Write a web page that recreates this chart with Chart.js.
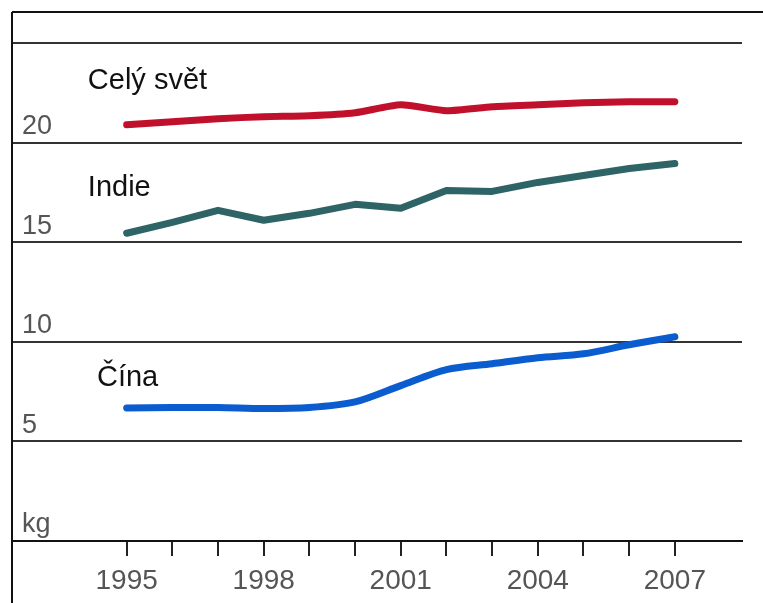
<!DOCTYPE html>
<html>
<head>
<meta charset="utf-8">
<script src="https://cdn.jsdelivr.net/npm/chart.js@4.4.1/dist/chart.umd.min.js"></script>
<style>
  html, body { margin: 0; padding: 0; background: #fff; }
  #wrap { width: 763px; height: 603px; position: relative; }
</style>
</head>
<body>
<div id="wrap"><canvas id="chart"></canvas></div>
<script>
// DATA
const years = [1995, 1996, 1997, 1998, 1999, 2000, 2001, 2002, 2003, 2004, 2005, 2006, 2007];
const celySvet = [20.9, 21.05, 21.2, 21.3, 21.35, 21.5, 21.9, 21.6, 21.8, 21.9, 22.0, 22.05, 22.05];
const indie = [15.45, 16.0, 16.6, 16.1, 16.45, 16.9, 16.7, 17.6, 17.55, 18.0, 18.35, 18.7, 18.95];
const cina = [6.68, 6.7, 6.7, 6.65, 6.7, 6.98, 7.8, 8.6, 8.9, 9.2, 9.4, 9.85, 10.25];
const yTicks = [0, 5, 10, 15, 20, 25];
const yTickLabels = ['kg', '5', '10', '15', '20', ''];
const xLabelYears = [1995, 1998, 2001, 2004, 2007];
const seriesNames = ['Celý svět', 'Indie', 'Čína'];

// where the series names sit, in data units (year, kg)
const namePos = [[1994.15, 23.1], [1994.15, 17.7], [1994.35, 8.2]];

const FONT = '"Liberation Sans", Arial, sans-serif';

// frame lines + series names
const extras = {
    id: 'extras',
    afterDraw(chart) {
        const ctx = chart.ctx;
        const a = chart.chartArea;
        const x = chart.scales.x, y = chart.scales.y;
        ctx.save();
        ctx.strokeStyle = '#111';
        ctx.lineWidth = 2;
        ctx.beginPath();
        ctx.moveTo(a.left, 12);
        ctx.lineTo(chart.width, 12);
        ctx.moveTo(a.left, 12);
        ctx.lineTo(a.left, chart.height);
        ctx.stroke();

        ctx.fillStyle = '#111';
        ctx.font = '29px ' + FONT;
        ctx.textAlign = 'left';
        ctx.textBaseline = 'middle';
        seriesNames.forEach((n, i) => {
            ctx.fillText(n, x.getPixelForValue(namePos[i][0]), y.getPixelForValue(namePos[i][1]));
        });
        ctx.restore();
    }
};

new Chart(document.getElementById('chart'), {
    type: 'line',
    data: {
        datasets: [
            { data: years.map((v, i) => ({ x: v, y: celySvet[i] })), borderColor: '#c1102c', borderWidth: 7, tension: 0.2 },
            { data: years.map((v, i) => ({ x: v, y: indie[i] })), borderColor: '#2e6466', borderWidth: 7, tension: 0 },
            { data: years.map((v, i) => ({ x: v, y: cina[i] })), borderColor: '#0a5ccf', borderWidth: 7, tension: 0.3 }
        ]
    },
    options: {
        responsive: true,
        maintainAspectRatio: false,
        animation: false,
        layout: { padding: { top: 43, left: 12, right: 21, bottom: 0 } },
        elements: { point: { radius: 0 }, line: { borderCapStyle: 'round', borderJoinStyle: 'round' } },
        plugins: { legend: { display: false }, tooltip: { enabled: false } },
        scales: {
            x: {
                type: 'linear',
                min: 1992.49,
                max: 2008.47,
                afterBuildTicks: s => { s.ticks = years.map(v => ({ value: v })); },
                afterFit: s => { s.height = 62; },
                grid: { drawOnChartArea: false, drawTicks: true, tickLength: 15, color: '#222', lineWidth: 2 },
                border: { display: true, color: '#111', width: 2 },
                ticks: {
                    autoSkip: false,
                    maxRotation: 0,
                    padding: 8,
                    color: '#555',
                    font: { family: FONT, size: 28 },
                    callback: v => xLabelYears.includes(v) ? String(v) : ''
                }
            },
            y: {
                min: 0,
                max: 25,
                afterBuildTicks: s => { s.ticks = yTicks.map(v => ({ value: v })); },
                afterFit: s => { s.width = 0; },
                grid: { color: '#333', lineWidth: 2, drawTicks: false },
                border: { display: false },
                ticks: {
                    mirror: true,
                    padding: 10,
                    labelOffset: -16,
                    color: '#555',
                    font: { family: FONT, size: 27 },
                    callback: v => yTickLabels[yTicks.indexOf(v)]
                }
            }
        }
    },
    plugins: [extras]
});
</script>
</body>
</html>
